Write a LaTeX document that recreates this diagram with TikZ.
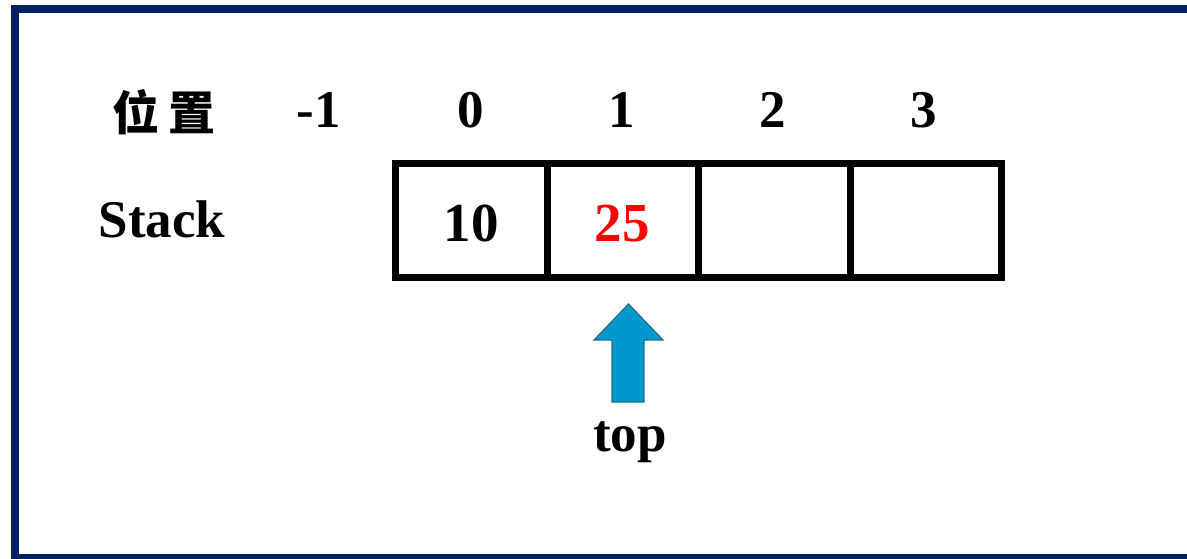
\documentclass[tikz,border=0pt]{standalone}
\usepackage{fontspec}
\setmainfont{Liberation Serif}
\newfontfamily\cjk{Noto Sans CJK TC}
\definecolor{frameblue}{HTML}{002060}
\definecolor{arrowfill}{HTML}{0099CC}
\definecolor{arrowline}{HTML}{1F6E8C}
\begin{document}
\begin{tikzpicture}[x=1pt,y=-1pt,
  lbl/.style={inner sep=0pt,anchor=base,font=\fontsize{53}{60}\selectfont\bfseries},
  cell/.style={draw=black,line width=7pt,minimum width=151.5pt,minimum height=113.5pt,inner sep=0pt,outer sep=0pt},
  celltxt/.style={inner sep=0pt,anchor=base,font=\fontsize{55}{62}\selectfont\bfseries}]
\useasboundingbox (0,0) rectangle (1187,559);
\draw[line width=8pt,frameblue] (15,9) rectangle (1195,558);
% position labels
\node[lbl,font=\fontsize{47}{52}\selectfont\cjk\bfseries] (pos) at (164,131) {位\hspace{9pt}置};
\node[lbl] (pm1) at (319,128) {-1};
\node[lbl] (p0) at (471,128) {0};
\node[lbl] (p1) at (622,128) {1};
\node[lbl] (p2) at (773,128) {2};
\node[lbl] (p3) at (924,128) {3};
\node[lbl] (stack) at (162,237) {Stack};
% cells
\node[cell] (c0) at (471.25,220.5) {};
\node[cell] (c1) at (622.75,220.5) {};
\node[cell] (c2) at (774.25,220.5) {};
\node[cell] (c3) at (925.75,220.5) {};
\node[celltxt] (v0) at (471,241) {10};
\node[celltxt,red] (v1) at (622,241) {25};
% top arrow
\draw[fill=arrowfill,draw=arrowline,line width=1.2pt,line join=miter]
  (612,402) -- (612,340) -- (594,340) -- (628.5,304) -- (663,340) -- (644,340) -- (644,402) -- cycle;
\node[lbl] (top) at (630,451) {top};
\end{tikzpicture}
\end{document}
